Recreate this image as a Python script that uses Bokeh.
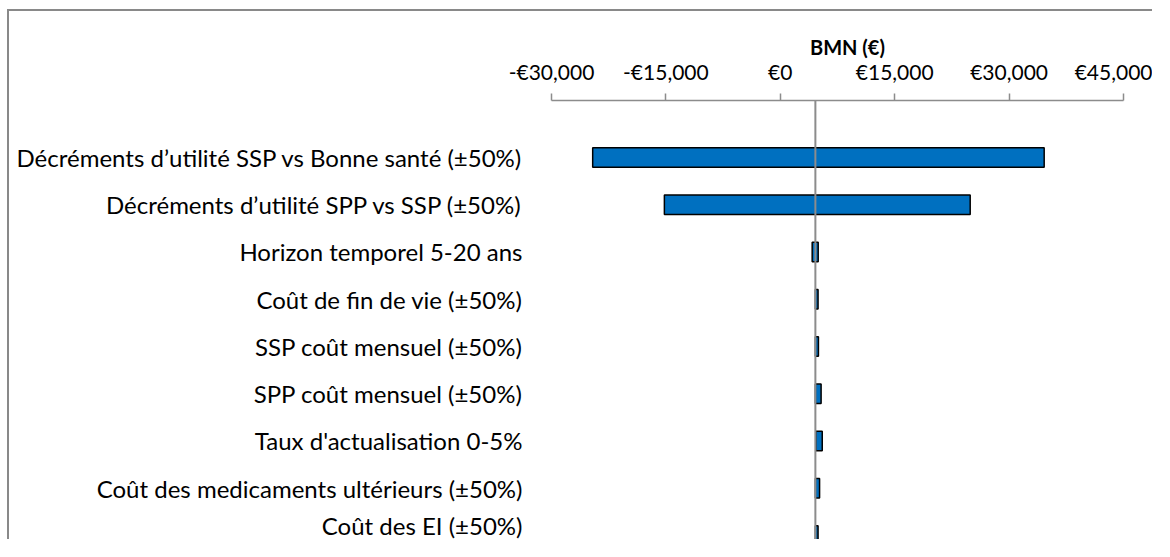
from bokeh.plotting import figure
from bokeh.layouts import column
from bokeh.models import Range1d, FixedTicker, Span, ColumnDataSource
from bokeh.embed import file_html
from bokeh.resources import INLINE

categories = [
    "Décréments d\u2019utilité SSP vs Bonne santé (±50%)",
    "Décréments d\u2019utilité SPP vs SSP (±50%)",
    "Horizon temporel 5-20 ans",
    "Coût de fin de vie (±50%)",
    "SSP coût mensuel (±50%)",
    "SPP coût mensuel (±50%)",
    "Taux d'actualisation 0-5%",
    "Coût des medicaments ultérieurs (±50%)",
    "Coût des EI (±50%)",
]
low_values = [-24600, -15200, 4180, 4600, 4600, 4600, 4650, 4600, 4600]
high_values = [34600, 24900, 4970, 4950, 5000, 5350, 5500, 5150, 4950]
base_value = 4600
x_ticks = [-30000, -15000, 0, 15000, 30000, 45000]
x_tick_labels = ["-€30,000", "-€15,000", "€0", "€15,000", "€30,000", "€45,000"]
axis_title = "BMN (€)"

idx = list(range(len(categories)))
src = ColumnDataSource(dict(y=idx, left=low_values, right=high_values))

FONT = "Lato"

p = figure(width=1145, height=530, output_backend="svg", toolbar_location=None,
           x_range=Range1d(-31442, 49065), y_range=Range1d(8.127, -1.206),
           x_axis_location="above",
           min_border_left=531, min_border_top=89, min_border_right=0, min_border_bottom=0)
p.styles = {"border-left": "2px solid #898989", "border-top": "2px solid #898989"}
p.outline_line_color = None
p.xgrid.visible = False
p.ygrid.visible = False
p.background_fill_color = "white"
p.border_fill_color = "white"

p.hbar(y="y", left="left", right="right", height=0.41, source=src,
       fill_color="#0070C0", line_color="black", line_width=1.5)

p.add_layout(Span(location=base_value, dimension="height", line_color="#8c8c8c", line_width=2))

xa = p.xaxis[0]
xa.ticker = FixedTicker(ticks=x_ticks)
xa.major_label_overrides = {t: l for t, l in zip(x_ticks, x_tick_labels)}
xa.bounds = (x_ticks[0], x_ticks[-1])
xa.axis_line_color = "#8c8c8c"
xa.axis_line_width = 1.5
xa.major_tick_line_color = "#8c8c8c"
xa.major_tick_line_width = 1.5
xa.major_tick_out = 7
xa.major_tick_in = 0
xa.minor_tick_line_color = None
xa.major_label_text_font = FONT
xa.major_label_text_font_size = "21px"
xa.major_label_text_color = "black"
xa.major_label_standoff = 10
xa.axis_label = axis_title
xa.axis_label_text_font = FONT
xa.axis_label_text_font_size = "20px"
xa.axis_label_text_font_style = "bold"
xa.axis_label_text_color = "black"
xa.axis_label_standoff = -3

ya = p.yaxis[0]
ya.ticker = FixedTicker(ticks=idx)
ya.major_label_overrides = {i: c for i, c in zip(idx, categories)}
ya.axis_line_color = None
ya.major_tick_line_color = None
ya.minor_tick_line_color = None
ya.major_label_text_font = FONT
ya.major_label_text_font_size = "24px"
ya.major_label_text_color = "black"
ya.major_label_standoff = 12

layout = column(p, styles={"padding-left": "7px", "padding-top": "9px", "background": "white"})

open("out.html", "w").write(file_html(layout, INLINE))
